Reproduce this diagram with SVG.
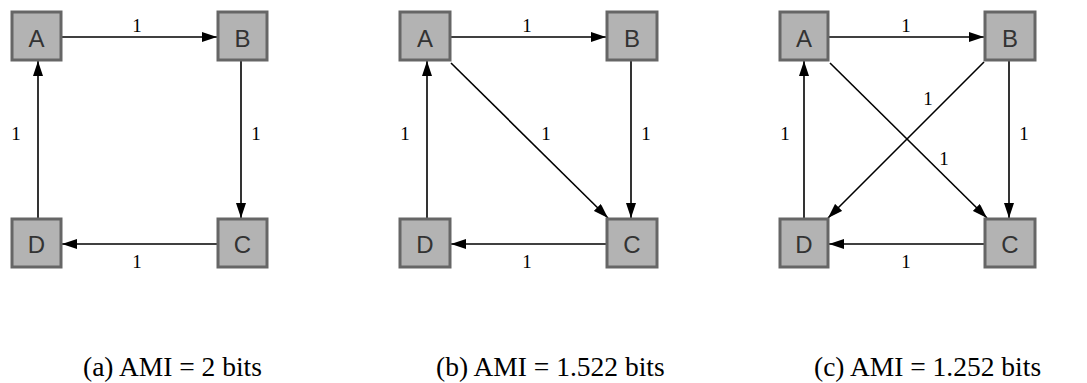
<svg xmlns="http://www.w3.org/2000/svg" width="1087" height="383" viewBox="0 0 1087 383">
<defs>
<marker id="arr" viewBox="0 0 15 10" refX="15" refY="5" markerWidth="15" markerHeight="10" markerUnits="userSpaceOnUse" orient="auto">
<path d="M0,0 L15,5 L0,10 Z" fill="#000"/>
</marker>
<style>
.box{fill:#b3b3b3;stroke:#666;stroke-width:3}
.nl{font-family:"Liberation Sans",Arial,sans-serif;font-size:24px;fill:#333;text-anchor:middle}
.e{stroke:#000;stroke-width:1.6;fill:none;marker-end:url(#arr)}
.el{font-family:"Liberation Serif","Times New Roman",serif;font-size:19px;fill:#000;text-anchor:middle}
.cap{font-family:"Liberation Serif","Times New Roman",serif;font-size:27.5px;fill:#000}
</style>
</defs>
<g id="connectors">
<line class="e" x1="62" y1="37" x2="217" y2="37"/>
<line class="e" x1="241" y1="61" x2="241" y2="218"/>
<line class="e" x1="217" y1="244" x2="62" y2="244"/>
<line class="e" x1="38" y1="218" x2="38" y2="61"/>
<line class="e" x1="451" y1="37" x2="606" y2="37"/>
<line class="e" x1="631" y1="61" x2="631" y2="218"/>
<line class="e" x1="606" y1="244" x2="451" y2="244"/>
<line class="e" x1="427" y1="218" x2="427" y2="61"/>
<line class="e" x1="451" y1="63" x2="608" y2="218"/>
<line class="e" x1="829" y1="37" x2="984" y2="37"/>
<line class="e" x1="1009" y1="61" x2="1009" y2="218"/>
<line class="e" x1="984" y1="244" x2="829" y2="244"/>
<line class="e" x1="804" y1="218" x2="804" y2="61"/>
<line class="e" x1="830" y1="63" x2="987" y2="218"/>
<line class="e" x1="984" y1="62" x2="828" y2="218"/>
</g>
<g id="edge-labels">
<text class="el" x="137" y="32">1</text>
<text class="el" x="256" y="140">1</text>
<text class="el" x="137" y="268">1</text>
<text class="el" x="16" y="140">1</text>
<text class="el" x="527" y="32">1</text>
<text class="el" x="646" y="140">1</text>
<text class="el" x="527" y="268">1</text>
<text class="el" x="405" y="140">1</text>
<text class="el" x="546" y="140">1</text>
<text class="el" x="906" y="32">1</text>
<text class="el" x="1024" y="140">1</text>
<text class="el" x="906" y="268">1</text>
<text class="el" x="785" y="140">1</text>
<text class="el" x="928" y="105">1</text>
<text class="el" x="944" y="165">1</text>
</g>
<g id="a-A"><rect class="box" x="12" y="12" width="49" height="48"/><text class="nl" x="36.5" y="46.5">A</text></g>
<g id="a-B"><rect class="box" x="218" y="12" width="49" height="48"/><text class="nl" x="242.5" y="46.5">B</text></g>
<g id="a-C"><rect class="box" x="218" y="219" width="49" height="48"/><text class="nl" x="242.5" y="253">C</text></g>
<g id="a-D"><rect class="box" x="12" y="219" width="49" height="48"/><text class="nl" x="36.5" y="253">D</text></g>
<g id="b-A"><rect class="box" x="400" y="12" width="50" height="48"/><text class="nl" x="425" y="46.5">A</text></g>
<g id="b-B"><rect class="box" x="607" y="12" width="50" height="48"/><text class="nl" x="632" y="46.5">B</text></g>
<g id="b-C"><rect class="box" x="607" y="219" width="50" height="48"/><text class="nl" x="632" y="253">C</text></g>
<g id="b-D"><rect class="box" x="400" y="219" width="50" height="48"/><text class="nl" x="425" y="253">D</text></g>
<g id="c-A"><rect class="box" x="780" y="12" width="48" height="48"/><text class="nl" x="804" y="46.5">A</text></g>
<g id="c-B"><rect class="box" x="985" y="12" width="50" height="48"/><text class="nl" x="1010" y="46.5">B</text></g>
<g id="c-C"><rect class="box" x="985" y="219" width="50" height="48"/><text class="nl" x="1010" y="253">C</text></g>
<g id="c-D"><rect class="box" x="780" y="219" width="48" height="48"/><text class="nl" x="804" y="253">D</text></g>
<g id="captions">
<text class="cap" x="83" y="376">(a) AMI = 2 bits</text>
<text class="cap" x="436" y="376">(b) AMI = 1.522 bits</text>
<text class="cap" x="814" y="376">(c) AMI = 1.252 bits</text>
</g>
</svg>
